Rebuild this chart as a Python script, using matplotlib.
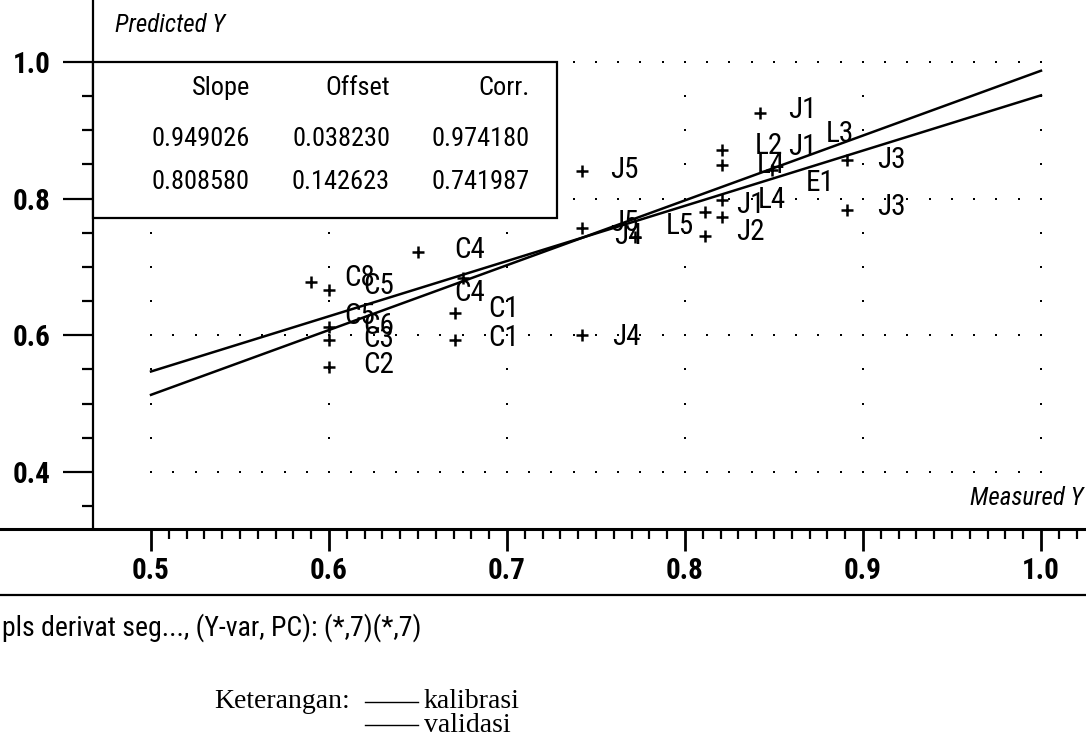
import numpy as np
import matplotlib
matplotlib.use('Agg')
import matplotlib.pyplot as plt
from matplotlib import font_manager
from matplotlib.lines import Line2D
from matplotlib.patches import Rectangle

# regression results: kalibrasi, validasi
slope = [0.949026, 0.808580]
offset = [0.038230, 0.142623]
corr = [0.974180, 0.741987]

# samples shown as '+'
plus_x = [0.590, 0.600, 0.600, 0.600, 0.600, 0.650, 0.671, 0.671, 0.675,
          0.742, 0.742, 0.742, 0.772, 0.811, 0.811, 0.821, 0.821, 0.821,
          0.821, 0.842, 0.849, 0.891, 0.891]
plus_y = [0.678, 0.666, 0.612, 0.593, 0.553, 0.722, 0.633, 0.593, 0.684,
          0.840, 0.757, 0.601, 0.744, 0.780, 0.745, 0.871, 0.849, 0.773,
          0.798, 0.925, 0.842, 0.857, 0.783]

# samples shown by name
names = ['C8', 'C5', 'C5', 'C6', 'C3', 'C2', 'C4', 'C4', 'C1', 'C1',
         'J4', 'J5', 'J5', 'J4', 'L5', 'J1', 'L2', 'J1', 'L3', 'J3', 'J3',
         'E1', 'L4', 'L4', 'J1', 'J2']
name_x = [0.617, 0.628, 0.617, 0.628, 0.628, 0.628, 0.679, 0.679, 0.698, 0.698,
          0.767, 0.766, 0.766, 0.768, 0.797, 0.866, 0.847, 0.866, 0.887, 0.916,
          0.916, 0.876, 0.848, 0.849, 0.837, 0.837]
name_y = [0.684, 0.672, 0.628, 0.614, 0.594, 0.556, 0.725, 0.662, 0.638, 0.596,
          0.597, 0.842, 0.765, 0.745, 0.760, 0.930, 0.877, 0.876, 0.895, 0.857,
          0.788, 0.823, 0.849, 0.798, 0.791, 0.751]

x_ticks = [0.5, 0.6, 0.7, 0.8, 0.9, 1.0]
y_ticks = [0.4, 0.6, 0.8, 1.0]

installed = {f.name for f in font_manager.fontManager.ttflist}
narrow = [n for n in ['Liberation Sans Narrow', 'DejaVu Sans Condensed',
                      'Roboto Condensed'] if n in installed]
fam = narrow[:1] + ['DejaVu Sans']
serif = ['Liberation Serif', 'DejaVu Serif']
plt.rcParams['font.family'] = fam

fig = plt.figure(figsize=(10.86, 7.45), dpi=100)
ax = fig.add_axes([93 / 1086, 216 / 745, 993 / 1086, 529 / 745])
ax.set_xlim(0.4674, 1.0253)
ax.set_ylim(0.3163, 1.0908)

for s in ['top', 'right', 'bottom']:
    ax.spines[s].set_visible(False)
ax.spines['left'].set_linewidth(1.6)
fig.add_artist(Line2D([0, 1], [216 / 745, 216 / 745], color='black', lw=2.2))
fig.add_artist(Line2D([0, 1], [150 / 745, 150 / 745], color='black', lw=1.6))

ax.set_xticks(x_ticks)
ax.set_xticklabels(['%.1f' % v for v in x_ticks], fontweight='bold')
ax.set_xticks(np.arange(0.5, 1.0201, 0.01), minor=True)
ax.set_yticks(y_ticks)
ax.set_yticklabels(['%.1f' % v for v in y_ticks], fontweight='bold')
ax.set_yticks([0.35, 0.45, 0.5, 0.55, 0.65, 0.7, 0.75, 0.85, 0.9, 0.95], minor=True)
ax.tick_params(axis='x', which='major', length=16, width=2, pad=4, labelsize=21)
ax.tick_params(axis='x', which='minor', length=7, width=1.6)
ax.tick_params(axis='y', which='major', length=21.6, width=1.6, pad=9, labelsize=21)
ax.tick_params(axis='y', which='minor', length=8, width=1.6)

# dotted grid
for xc in x_ticks:
    ys = np.arange(0.4, 1.0001, 0.05)
    ax.plot([xc] * len(ys), ys, 's', color='black', ms=1.8, mew=0, zorder=1)
for yr in y_ticks:
    xs = np.arange(0.5, 1.0001, 0.0125)
    ax.plot(xs, [yr] * len(xs), 's', color='black', ms=1.8, mew=0, zorder=1)

# regression lines
xl = np.array([0.5, 1.0])
for sl, of in zip(slope, offset):
    ax.plot(xl, sl * xl + of, color='black', lw=1.8, zorder=2)

ax.plot(plus_x, plus_y, '+', color='black', ms=8, mew=1.8, zorder=3)
for n, x, y in zip(names, name_x, name_y):
    ax.text(x, y, n, fontsize=21, ha='center', va='center', zorder=3)

# statistics box
ax.add_patch(Rectangle((0.4674, 0.771), 0.728 - 0.4674, 1.0 - 0.771,
                       facecolor='white', edgecolor='black', lw=1.6,
                       zorder=5, clip_on=False))
col_x = [0.5556, 0.6343, 0.7129]
heads = ['Slope', 'Offset', 'Corr.']
cols = [slope, offset, corr]
for cx, h, vals in zip(col_x, heads, cols):
    ax.text(cx, 0.962, h, fontsize=19, ha='right', va='center', zorder=6)
    for v, ry in zip(vals, [0.888, 0.825]):
        ax.text(cx, ry, '%.6f' % v, fontsize=19, ha='right', va='center', zorder=6)

ax.text(0.4798, 1.054, 'Predicted Y', fontsize=18, style='italic',
        ha='left', va='center')
ax.text(1.0236, 0.3616, 'Measured Y', fontsize=18, style='italic',
        ha='right', va='center')

fig.text(2 / 1086, 1 - 628 / 745, 'pls derivat seg..., (Y-var, PC): (*,7)(*,7)',
         fontsize=20, ha='left', va='center')

fig.text(350 / 1086, 1 - 702 / 745, 'Keterangan:', family=serif, fontsize=20,
         ha='right', va='center')
for yy, lab in zip([702, 725], ['kalibrasi', 'validasi']):
    fig.add_artist(Line2D([365 / 1086, 418 / 1086], [1 - yy / 745, 1 - yy / 745],
                          color='black', lw=1.0))
    fig.text(424 / 1086, 1 - yy / 745, lab, family=serif, fontsize=20,
             ha='left', va='center')

fig.savefig('out.png', dpi=100)
